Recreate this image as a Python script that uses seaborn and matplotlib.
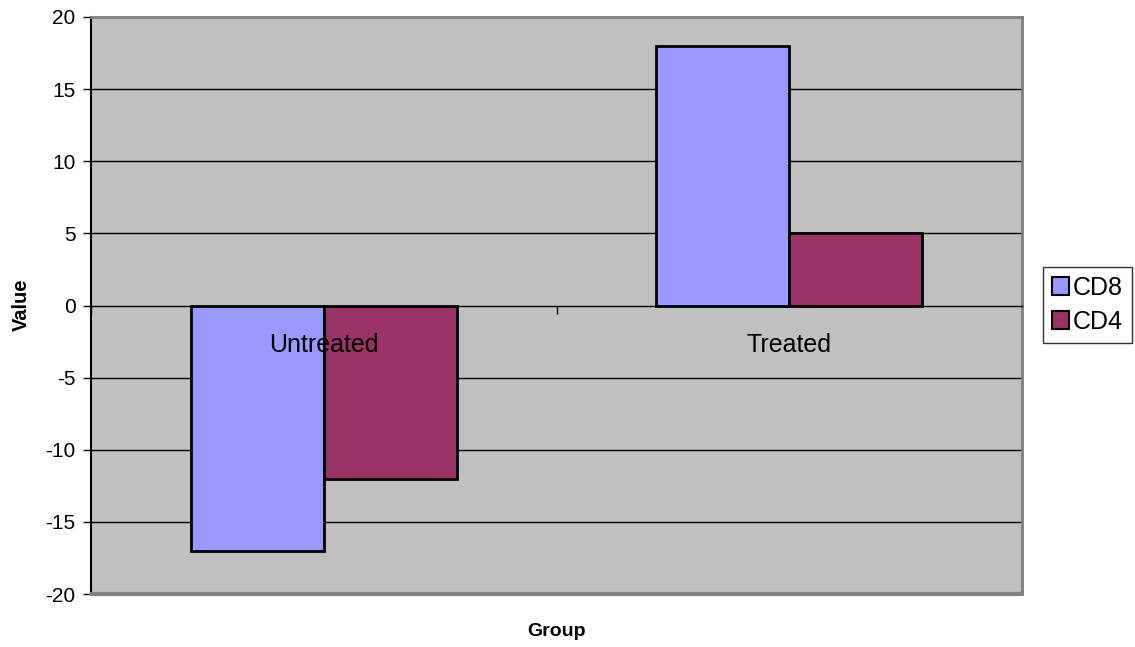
import matplotlib
matplotlib.use("Agg")
import matplotlib.pyplot as plt
import matplotlib.transforms as mtransforms
import seaborn as sns
import pandas as pd
from matplotlib.patches import Patch

# Data
groups = ["Untreated", "Treated"]
series = ["CD8", "CD4"]
cd8_values = [-17, 18]
cd4_values = [-12, 5]
y_ticks = [-20, -15, -10, -5, 0, 5, 10, 15, 20]

colors = {"CD8": "#9999FF", "CD4": "#993366"}

df = pd.DataFrame({
    "Group": groups * 2,
    "Series": ["CD8"] * len(groups) + ["CD4"] * len(groups),
    "Value": cd8_values + cd4_values,
})

sns.set_theme(style="white")
plt.rcParams["font.family"] = ["Liberation Sans", "DejaVu Sans"]
plt.rcParams["text.color"] = "black"
plt.rcParams["xtick.color"] = "black"
plt.rcParams["ytick.color"] = "black"
plt.rcParams["axes.labelcolor"] = "black"

fig = plt.figure(figsize=(11.35, 6.47), dpi=100)
ax = fig.add_axes([91 / 1135, 53 / 647, 931 / 1135, 577 / 647])
ax.set_facecolor("#C0C0C0")

sns.barplot(data=df, x="Group", y="Value", hue="Series", order=groups,
            hue_order=series, palette=colors, width=0.572, saturation=1,
            edgecolor="black", linewidth=2, ax=ax, legend=False, zorder=3)

ax.set_ylim(-20, 20)
ax.set_xlim(-0.5, 1.5)
ax.set_yticks(y_ticks)
ax.set_yticklabels([str(v) for v in y_ticks])
ax.tick_params(axis="y", direction="out", length=6, width=1, color="black",
               labelsize=15, pad=5, left=True)

# horizontal gridlines
for v in y_ticks:
    if v not in (-20, 0, 20):
        ax.axhline(v, color="black", linewidth=1, zorder=1)

# category axis along zero
ax.spines["bottom"].set_position(("data", 0))
ax.spines["bottom"].set_color("black")
ax.spines["bottom"].set_linewidth(1)
ax.spines["bottom"].set_zorder(4)
ax.set_xticks([-0.5, 0.5, 1.5])
ax.set_xticklabels(["", "", ""])
ax.tick_params(axis="x", which="major", direction="out", length=6, width=1,
               color="black", bottom=True)

# category names drawn over the bars, just below the zero line
label_tf = mtransforms.offset_copy(ax.transData, fig=fig, x=0, y=-39,
                                   units="dots")
for i, name in enumerate(groups):
    ax.text(i, 0, name, transform=label_tf, ha="center", va="center",
            fontsize=18, color="black", zorder=10)

ax.spines["left"].set_color("black")
ax.spines["left"].set_linewidth(1.5)
for side in ("top", "right"):
    ax.spines[side].set_color("#808080")
    ax.spines[side].set_linewidth(2)
ax.axhline(-20, color="#808080", linewidth=3, zorder=5, clip_on=False)

ax.set_xlabel("")
ax.set_ylabel("")
fig.text(21 / 1135, 1 - 305 / 647, "Value", rotation=90, ha="center",
         va="center", fontsize=14.5, fontweight="bold")
fig.text(556 / 1135, 1 - 631 / 647, "Group", ha="center", va="center",
         fontsize=14, fontweight="bold")

handles = [Patch(facecolor=colors[s], edgecolor="black", linewidth=1.5, label=s)
           for s in series]
leg = fig.legend(handles=handles, loc="upper left",
                 bbox_to_anchor=(1043 / 1135, 1 - 267 / 647),
                 fontsize=18, frameon=True, fancybox=False,
                 handlelength=0.7, handleheight=0.7, handletextpad=0.15,
                 borderpad=0.35, labelspacing=0.4, borderaxespad=0)
leg.get_frame().set_edgecolor("black")
leg.get_frame().set_linewidth(1)

fig.savefig("out.png", dpi=100)
